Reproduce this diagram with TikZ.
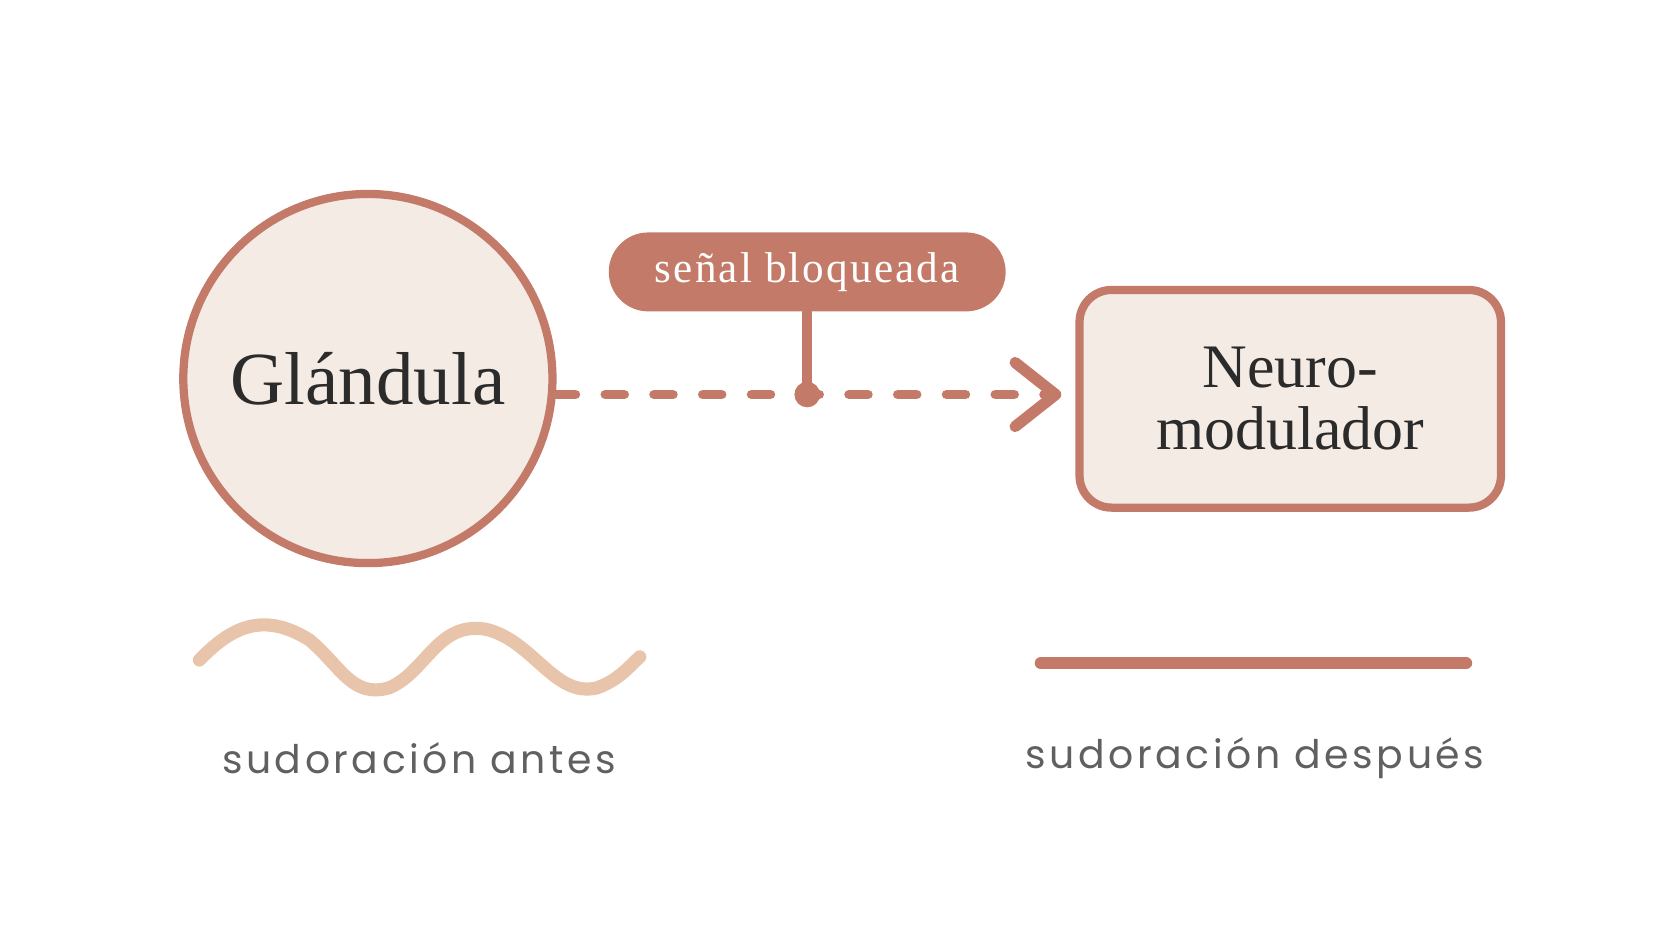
\documentclass[tikz,border=0pt]{standalone}
\usepackage{fontspec}
\setmainfont{Liberation Serif}
\newfontfamily\labelfont[LetterSpace=9]{Poppins}
\usetikzlibrary{positioning, arrows.meta, calc}
\definecolor{terra}{HTML}{C47A68}
\definecolor{cream}{HTML}{F4EBE4}
\definecolor{sand}{HTML}{E8C4AA}
\definecolor{inkgray}{HTML}{2B2B2B}

\begin{document}
\begin{tikzpicture}[x=0.01cm, y=-0.01cm,
    organ/.style={draw=terra, fill=cream, line width=2.2pt, text=inkgray},
    caption/.style={font=\labelfont\fontsize{10.5}{13}\selectfont, text=inkgray!75},
    flow/.style={terra, line width=2.6pt, line cap=round}
]
\useasboundingbox (0,0) rectangle (1568,882);

% Main elements: gland and neuromodulator
\node[organ, circle, minimum size=3.46cm,
      font=\fontsize{20}{24}\selectfont] (gland) at (345,355) {Glándula};
\node[organ, rectangle, rounded corners=0.3cm,
      minimum width=3.95cm, minimum height=2.04cm, align=center,
      font=\fontsize{16.5}{16.5}\selectfont] (neuro) at (1210,374) {Neuro-\\modulador};

% Blocked signal
\node[fill=terra, rounded corners=0.37cm, minimum width=3.72cm, minimum height=0.74cm,
      text=white, font=\fontsize{11.5}{14}\selectfont\addfontfeature{LetterSpace=5}]
      (block) at (757,255) {señal bloqueada};
\coordinate (gout) at (522,370);
\coordinate (tip) at (990,370);
\fill[terra] (757,370) circle (12) coordinate (dot);
\draw[flow, dash pattern=on 5pt off 8pt] (gout) -- (tip);
\draw[flow, line width=3pt, line join=round] ($(tip)+(-38,-30)$) -- (tip) -- ($(tip)+(-38,30)$);
\draw[flow] (block.south) -- (dot);

% Sweating before / after
\draw[sand, line width=3.5pt, line cap=round]
    (187,619) .. controls (215,590) and (245,572) .. (290,600)
    .. controls (320,625) and (330,655) .. (365,645)
    .. controls (400,630) and (410,583) .. (455,590)
    .. controls (500,600) and (520,655) .. (560,645)
    .. controls (580,638) and (590,625) .. (600,616);
\coordinate (flatL) at (976,622);
\coordinate (flatR) at (1375,622);
\draw[flow, line width=3.2pt] (flatL) -- (flatR);

\node[caption] (before) at (393,711) {sudoración antes};
\node[caption] (after) at (1177,711) {sudoración después};

\end{tikzpicture}
\end{document}
